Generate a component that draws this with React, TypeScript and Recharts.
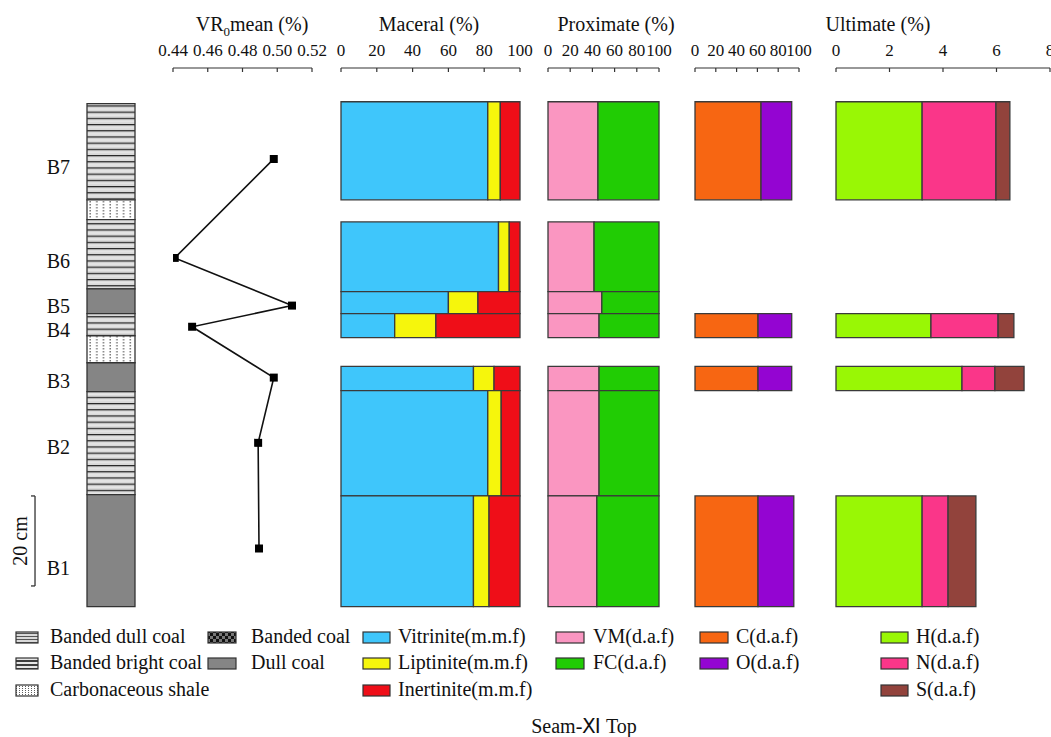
import React from 'react';
import {
  ComposedChart,
  XAxis,
  YAxis,
  ZAxis,
  Scatter,
  ReferenceArea,
  ReferenceLine,
} from 'recharts';

const FONT = '"Liberation Serif", "Times New Roman", serif';

// samples from top to bottom, depth in cm below seam top
const samples = ['B7', 'B6', 'B5', 'B4', 'B3', 'B2', 'B1'];
const sampleTop = [0, 26.7, 42.2, 47.1, 58.8, 64.2, 87.6];
const sampleBase = [21.8, 42.2, 47.1, 52.4, 64.2, 87.6, 112.2];
const labelDepth = [14.4, 35.4, 45.3, 50.6, 62, 76.6, 103.5];

// maceral (m.m.f)
const vitrinite = [82, 88, 60, 30, 74, 82, 74];
const liptinite = [7, 6, 16.5, 23, 11.5, 7.5, 8.7];
const inertinite = [11, 6, 23.5, 47, 14.5, 10.5, 17.3];

// proximate (d.a.f)
const volatile = [45, 41.5, 48.5, 46, 46, 46, 44];
const fixedCarbon = [55, 58.5, 51.5, 54, 54, 54, 56];

// ultimate (d.a.f)
const carbon = [63.5, null, null, 60.6, 60.6, null, 60.6];
const oxygen = [29.5, null, null, 32.4, 32.4, null, 34.4];
const hydrogen = [3.22, null, null, 3.55, 4.71, null, 3.22];
const nitrogen = [2.76, null, null, 2.51, 1.23, null, 0.97];
const sulfur = [0.52, null, null, 0.59, 1.09, null, 1.04];

// vitrinite reflectance
const vrDepth = [12.7, 34.7, 45.3, 50, 61.3, 75.8, 99.3];
const vrMean = [0.498, 0.441, 0.5085, 0.451, 0.498, 0.489, 0.4895];

// lithology column
const lithTop = [0.4, 21.8, 26.2, 41.6, 47.1, 52, 58, 64.4, 87.3];
const lithBase = [21.8, 26.2, 41.6, 47.1, 52, 58, 64.4, 87.3, 112.2];
const lithType = ['bdc', 'cs', 'bdc', 'dc', 'bdc', 'cs', 'dc', 'bdc', 'dc'];

const scaleBar = [87.6, 107.6];

const vrTicks = [0.44, 0.46, 0.48, 0.5, 0.52];
const pctTicks = [0, 20, 40, 60, 80, 100];
const ultTicks = [0, 2, 4, 6, 8];

const DEPTH: [number, number] = [-7.5, 113.5];
const H = 620;
const tickStyle = { fontSize: 17, fill: '#111', fontFamily: FONT };

const lithFill: Record<string, string> = {
  bdc: 'url(#pat-bdc)',
  cs: 'url(#pat-cs)',
  dc: '#858585',
};

type Series = { name: string; color: string; values: (number | null)[] };

const NoShape = () => <g />;

function TopAxis({ max, ticks }: { max: number; ticks: number[] }) {
  return (
    <XAxis
      type="number"
      dataKey="x"
      orientation="top"
      domain={[ticks[0], max]}
      ticks={ticks}
      allowDataOverflow
      interval={0}
      height={30}
      tickSize={-4}
      tickMargin={16}
      axisLine={{ stroke: '#333', strokeWidth: 1.2 }}
      tickLine={{ stroke: '#333', strokeWidth: 1.2 }}
      tick={tickStyle}
    />
  );
}

function StackPanel({ left, width, ml, mr, max, ticks, series }: {
  left: number; width: number; ml: number; mr: number; max: number; ticks: number[]; series: Series[];
}) {
  const areas: React.ReactNode[] = [];
  const anchors: { x: number; y: number }[] = [];
  samples.forEach((s, i) => {
    let start = 0;
    series.forEach((se) => {
      const v = se.values[i];
      if (v == null) return;
      areas.push(
        <ReferenceArea
          key={`${s}-${se.name}`}
          x1={start}
          x2={start + v}
          y1={sampleTop[i]}
          y2={sampleBase[i]}
          fill={se.color}
          fillOpacity={1}
          stroke="#3a3a3a"
          strokeWidth={1.3}
          ifOverflow="visible"
        />
      );
      start += v;
    });
    anchors.push({ x: 0, y: sampleTop[i] }, { x: Math.min(start, max), y: sampleBase[i] });
  });
  return (
    <div style={{ position: 'absolute', left, top: 0 }}>
      <ComposedChart width={width} height={H} margin={{ top: 38, right: mr, bottom: 7.5, left: ml }}>
        <TopAxis max={max} ticks={ticks} />
        <YAxis type="number" dataKey="y" domain={DEPTH} reversed hide allowDataOverflow />
        <Scatter data={anchors} shape={NoShape} isAnimationActive={false} />
        {areas}
      </ComposedChart>
    </div>
  );
}

function Lithology() {
  const anchors = lithTop.map((t, i) => ({ x: 0.5, y: (t + lithBase[i]) / 2 }));
  return (
    <div style={{ position: 'absolute', left: 0, top: 0 }}>
      <ComposedChart width={140} height={H} margin={{ top: 68, right: 5, bottom: 7.5, left: 0 }}>
        <defs>
          <pattern id="pat-bdc" width="10" height="6.2" patternUnits="userSpaceOnUse">
            <rect width="10" height="6.2" fill="#d9d9d9" />
            <line x1="0" y1="0.6" x2="10" y2="0.6" stroke="#222" strokeWidth="1.2" />
            <line x1="0" y1="3.6" x2="10" y2="3.6" stroke="#f4f4f4" strokeWidth="0.8" />
          </pattern>
          <pattern id="pat-cs" width="6.7" height="3" patternUnits="userSpaceOnUse">
            <rect width="6.7" height="3" fill="#fff" />
            <line x1="3" y1="0" x2="3" y2="1.5" stroke="#333" strokeWidth="1" />
          </pattern>
        </defs>
        <XAxis type="number" dataKey="x" domain={[0, 1]} hide allowDataOverflow />
        <YAxis
          type="number"
          dataKey="y"
          domain={DEPTH}
          reversed
          allowDataOverflow
          width={87}
          ticks={labelDepth}
          interval={0}
          tickFormatter={(v: number) => samples[labelDepth.indexOf(v)] ?? ''}
          axisLine={false}
          tickLine={false}
          tickSize={0}
          tickMargin={17}
          tick={{ fontSize: 20, fill: '#111', fontFamily: FONT }}
        />
        <Scatter data={anchors} shape={NoShape} isAnimationActive={false} />
        {lithType.map((t, i) => (
          <ReferenceArea
            key={`lith-${i}`}
            x1={0}
            x2={1}
            y1={lithTop[i]}
            y2={lithBase[i]}
            fill={lithFill[t]}
            fillOpacity={1}
            stroke="#333"
            strokeWidth={1.3}
            ifOverflow="visible"
          />
        ))}
        <ReferenceLine segment={[{ x: -1.083, y: scaleBar[0] }, { x: -1.083, y: scaleBar[1] }]} stroke="#333" strokeWidth={1.3} ifOverflow="visible" />
        <ReferenceLine segment={[{ x: -1.167, y: scaleBar[0] }, { x: -1.083, y: scaleBar[0] }]} stroke="#333" strokeWidth={1.3} ifOverflow="visible" />
        <ReferenceLine segment={[{ x: -1.167, y: scaleBar[1] }, { x: -1.083, y: scaleBar[1] }]} stroke="#333" strokeWidth={1.3} ifOverflow="visible" />
      </ComposedChart>
    </div>
  );
}

function Reflectance() {
  const rows = vrMean.map((v, i) => ({ vr: v, depth: vrDepth[i] }));
  return (
    <div style={{ position: 'absolute', left: 150, top: 0 }}>
      <ComposedChart width={190} height={H} margin={{ top: 38, right: 28, bottom: 7.5, left: 23 }}>
        <XAxis
          type="number"
          dataKey="vr"
          orientation="top"
          domain={[0.44, 0.52]}
          ticks={vrTicks}
          allowDataOverflow
          interval={0}
          height={30}
          tickSize={-4}
          tickMargin={16}
          tickFormatter={(v: number) => v.toFixed(2)}
          axisLine={{ stroke: '#333', strokeWidth: 1.2 }}
          tickLine={{ stroke: '#333', strokeWidth: 1.2 }}
          tick={tickStyle}
        />
        <YAxis type="number" dataKey="depth" domain={DEPTH} reversed hide allowDataOverflow />
        <ZAxis range={[46, 46]} />
        <Scatter
          data={rows}
          shape="square"
          fill="#000"
          line={{ stroke: '#111', strokeWidth: 1.6 }}
          lineType="joint"
          isAnimationActive={false}
        />
      </ComposedChart>
    </div>
  );
}

const legendCols = [
  [
    { label: 'Banded dull coal', fill: 'url(#lg-bdc)' },
    { label: 'Banded bright coal', fill: 'url(#lg-bbc)' },
    { label: 'Carbonaceous shale', fill: 'url(#lg-cs)' },
  ],
  [
    { label: 'Banded coal', fill: 'url(#lg-bc)' },
    { label: 'Dull coal', fill: '#858585' },
  ],
  [
    { label: 'Vitrinite(m.m.f)', fill: '#3fc6fb' },
    { label: 'Liptinite(m.m.f)', fill: '#f6f60c' },
    { label: 'Inertinite(m.m.f)', fill: '#ef0e18' },
  ],
  [
    { label: 'VM(d.a.f)', fill: '#fa96c1' },
    { label: 'FC(d.a.f)', fill: '#21cc04' },
  ],
  [
    { label: 'C(d.a.f)', fill: '#f76612' },
    { label: 'O(d.a.f)', fill: '#9405d2' },
  ],
  [
    { label: 'H(d.a.f)', fill: '#99f705' },
    { label: 'N(d.a.f)', fill: '#fa3689' },
    { label: 'S(d.a.f)', fill: '#92433c' },
  ],
];
const colX = [16, 208, 363, 556, 700, 881];
const colW = [22, 28, 27, 28, 28, 27];
const colGap = [12, 15, 8, 9, 8, 8];
const rowBase = [643, 669, 696];

function Overlay() {
  return (
    <svg width={1051} height={737} style={{ position: 'absolute', left: 0, top: 0, fontFamily: FONT }}>
      <defs>
        <pattern id="lg-bdc" width="6" height="3" patternUnits="userSpaceOnUse">
          <rect width="6" height="3" fill="#d9d9d9" />
          <line x1="0" y1="0.5" x2="6" y2="0.5" stroke="#333" strokeWidth="0.8" />
        </pattern>
        <pattern id="lg-bbc" width="6" height="4" patternUnits="userSpaceOnUse">
          <rect width="6" height="4" fill="#e6e6e6" />
          <line x1="0" y1="1" x2="6" y2="1" stroke="#111" strokeWidth="1.6" />
        </pattern>
        <pattern id="lg-cs" width="3" height="2" patternUnits="userSpaceOnUse">
          <rect width="3" height="2" fill="#fff" />
          <line x1="1.5" y1="0" x2="1.5" y2="1" stroke="#333" strokeWidth="0.8" />
        </pattern>
        <pattern id="lg-bc" width="6" height="6" patternUnits="userSpaceOnUse">
          <rect width="6" height="6" fill="#111" />
          <rect width="3" height="3" fill="#777" />
          <rect x="3" y="3" width="3" height="3" fill="#777" />
        </pattern>
      </defs>
      <g fontSize={20} fill="#111" textAnchor="middle">
        <text x={252} y={31}>
          VR<tspan dy={5} fontSize={13}>0</tspan>
          <tspan dy={-5}>mean (%)</tspan>
        </text>
        <text x={429} y={31}>Maceral (%)</text>
        <text x={616} y={31}>Proximate (%)</text>
        <text x={878} y={31}>Ultimate (%)</text>
        <text transform="translate(27,541) rotate(-90)">20 cm</text>
        <text x={584} y={733}>Seam-Ⅺ Top</text>
      </g>
      {legendCols.map((col, c) =>
        col.map((it, r) => (
          <g key={it.label}>
            <rect x={colX[c]} y={rowBase[r] - 11} width={colW[c]} height={11} fill={it.fill} stroke="#333" strokeWidth={1.2} />
            <text x={colX[c] + colW[c] + colGap[c]} y={rowBase[r]} fontSize={20} fill="#111">
              {it.label}
            </text>
          </g>
        ))
      )}
    </svg>
  );
}

export default function App() {
  return (
    <div style={{ position: 'absolute', left: 0, top: 0, width: 1051, height: 737, background: '#fff', fontFamily: FONT }}>
      <Overlay />
      <Lithology />
      <Reflectance />
      <StackPanel
        left={320} width={220} ml={21} mr={20} max={100} ticks={pctTicks}
        series={[
          { name: 'Vitrinite', color: '#3fc6fb', values: vitrinite },
          { name: 'Liptinite', color: '#f6f60c', values: liptinite },
          { name: 'Inertinite', color: '#ef0e18', values: inertinite },
        ]}
      />
      <StackPanel
        left={530} width={150} ml={18} mr={21} max={100} ticks={pctTicks}
        series={[
          { name: 'VM', color: '#fa96c1', values: volatile },
          { name: 'FC', color: '#21cc04', values: fixedCarbon },
        ]}
      />
      <StackPanel
        left={680} width={140} ml={15} mr={21} max={100} ticks={pctTicks}
        series={[
          { name: 'C', color: '#f76612', values: carbon },
          { name: 'O', color: '#9405d2', values: oxygen },
        ]}
      />
      <StackPanel
        left={820} width={231} ml={16} mr={1} max={8} ticks={ultTicks}
        series={[
          { name: 'H', color: '#99f705', values: hydrogen },
          { name: 'N', color: '#fa3689', values: nitrogen },
          { name: 'S', color: '#92433c', values: sulfur },
        ]}
      />
    </div>
  );
}
